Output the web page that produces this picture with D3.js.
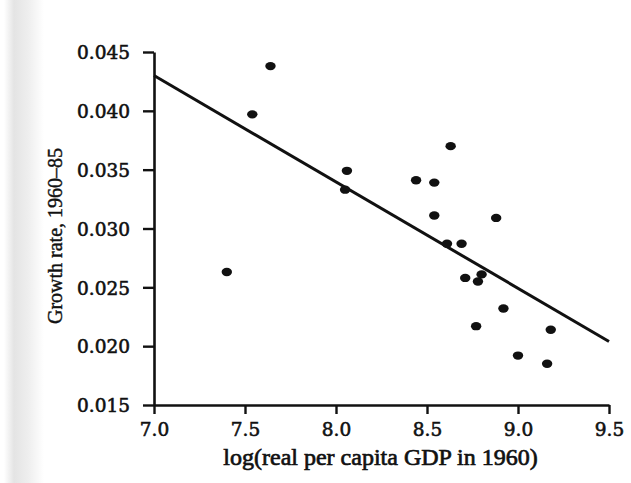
<!DOCTYPE html>
<html>
<head>
<meta charset="utf-8">
<script src="https://cdn.jsdelivr.net/npm/d3@7"></script>
<style>
  body { margin: 0; background: #fff; }
  svg { display: block; }
</style>
</head>
<body>
<script>
  // log GDP 1960 vs growth rate 1960-85
  const logGdp = [7.40, 7.54, 7.64, 8.06, 8.05, 8.44, 8.54, 8.54, 8.63, 8.61,
                  8.69, 8.88, 8.71, 8.78, 8.80, 8.92, 8.77, 9.00, 9.16, 9.18];
  const growth = [0.0263, 0.0397, 0.0438, 0.0349, 0.0333, 0.0341, 0.0339, 0.0311, 0.0370, 0.0287,
                  0.0287, 0.0309, 0.0258, 0.0255, 0.0261, 0.0232, 0.0217, 0.0192, 0.0185, 0.0214];
  const fitX = [7.0, 9.5];
  const fitY = [0.0430, 0.0204];
  const xTicks = [7.0, 7.5, 8.0, 8.5, 9.0, 9.5];
  const yTicks = [0.015, 0.020, 0.025, 0.030, 0.035, 0.040, 0.045];

  const width = 631, height = 483;
  const margin = {left: 154, right: 22, top: 52, bottom: 78};

  const svg = d3.select("body").append("svg")
      .attr("width", width)
      .attr("height", height);

  // scanned page edge
  const grad = svg.append("defs").append("linearGradient")
      .attr("id", "edge")
  grad.append("stop").attr("offset", "0%").attr("stop-color", "#fff");
  grad.append("stop").attr("offset", "25%").attr("stop-color", "#e4e4e4");
  grad.append("stop").attr("offset", "60%").attr("stop-color", "#eeeeee");
  grad.append("stop").attr("offset", "100%").attr("stop-color", "#fff");
  svg.append("rect")
      .attr("x", 4).attr("y", 0)
      .attr("width", 40).attr("height", height)
      .attr("fill", "url(#edge)");

  const x = d3.scaleLinear()
      .domain([7.0, 9.5])
      .range([margin.left, width - margin.right]);
  const y = d3.scaleLinear()
      .domain([0.015, 0.045])
      .range([height - margin.bottom, margin.top]);

  const gx = svg.append("g")
      .attr("transform", `translate(0,${height - margin.bottom})`)
      .call(d3.axisBottom(x).tickValues(xTicks).tickFormat(d3.format(".1f"))
        .tickSize(9).tickSizeOuter(0).tickPadding(9));

  const gy = svg.append("g")
      .attr("transform", `translate(${margin.left},0)`)
      .call(d3.axisLeft(y).tickValues(yTicks).tickFormat(d3.format(".3f"))
        .tickSize(11).tickSizeOuter(0).tickPadding(13));

  [gx, gy].forEach(g => {
    g.select(".domain").attr("stroke", "#111").attr("stroke-width", 2.6);
    g.selectAll(".tick line").attr("stroke", "#111").attr("stroke-width", 2.4);
    g.selectAll(".tick text")
        .attr("font-size", 18.5)
        .attr("font-family", "DejaVu Serif, serif")
        .attr("fill", "#111")
        .attr("stroke", "#111")
        .attr("stroke-width", 0.6);
  });
  gy.selectAll(".tick text").attr("dy", "0.36em");

  svg.append("line")
      .attr("x1", x(fitX[0])).attr("y1", y(fitY[0]))
      .attr("x2", x(fitX[1])).attr("y2", y(fitY[1]))
      .attr("stroke", "#111")
      .attr("stroke-width", 3);

  svg.append("g").selectAll("ellipse")
    .data(d3.range(logGdp.length))
    .join("ellipse")
      .attr("cx", i => x(logGdp[i]))
      .attr("cy", i => y(growth[i]))
      .attr("rx", 5.2)
      .attr("ry", 4.2)
      .attr("fill", "#111");

  svg.append("text")
      .attr("x", (x(7.0) + x(9.5)) / 2 - 1)
      .attr("y", 465)
      .attr("text-anchor", "middle")
      .attr("font-family", "Liberation Serif, serif")
      .attr("font-size", 24)
      .attr("fill", "#111")
      .attr("stroke", "#111")
      .attr("stroke-width", 0.7)
      .text("log(real per capita GDP in 1960)");

  svg.append("text")
      .attr("transform", "translate(62,236) rotate(-90)")
      .attr("text-anchor", "middle")
      .attr("font-family", "Liberation Serif, serif")
      .attr("font-size", 20)
      .attr("fill", "#111")
      .attr("stroke", "#111")
      .attr("stroke-width", 0.4)
      .text("Growth rate, 1960–85");
</script>
</body>
</html>
